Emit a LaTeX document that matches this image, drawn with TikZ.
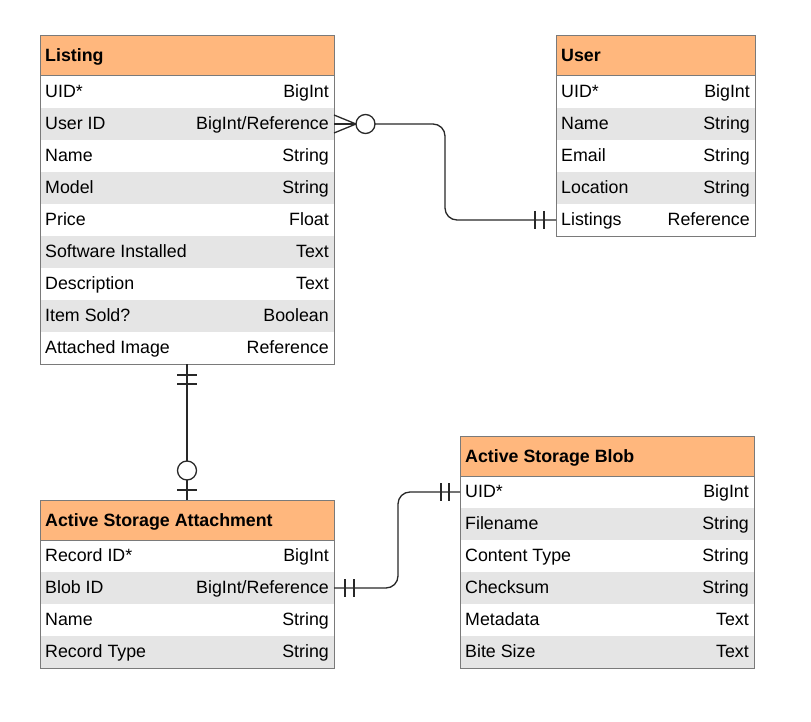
\documentclass[tikz,border=0pt]{standalone}
\usepackage{fontspec}
\setmainfont{Liberation Sans}
\usetikzlibrary{calc}
\definecolor{hdrorange}{RGB}{255,183,125}
\definecolor{rowgray}{RGB}{229,229,229}
\definecolor{bordergray}{RGB}{122,122,122}
\definecolor{linkcol}{RGB}{40,40,40}
\newcommand\mainsize{\fontsize{17.8}{21}\selectfont}
\tikzset{
  hdrbox/.style={draw=bordergray, line width=1pt, fill=hdrorange, minimum height=40pt, inner sep=0pt, outer sep=0pt},
  rowbox/.style={draw=none, minimum height=32pt, inner sep=0pt, outer sep=0pt},
  txt/.style={inner sep=0pt, font=\mainsize, text=black},
  border/.style={draw=bordergray, line width=1pt},
  link/.style={draw=linkcol, line width=1.3pt},
  circ/.style={circle, draw=linkcol, line width=1.3pt, fill=white, minimum size=19pt, inner sep=0pt, outer sep=0pt},
}
\newcommand\ertable[7]{%
  \node[hdrbox, minimum width=#4pt, anchor=north west] (#1) at (#2,#3) {};
  \node[txt, font=\mainsize\bfseries, anchor=base west] (#1-title) at ($(#1.north west)+(5,26)$) {#5};
  \foreach \f/\t [count=\i] in {#7} {
    \ifodd\i \def\rf{white}\else\def\rf{rowgray}\fi
    \pgfmathsetmacro\yy{#3+40+(\i-1)*32}
    \node[rowbox, fill=\rf, minimum width=#4pt, anchor=north west] (#1-\i) at (#2,\yy) {};
    \node[txt, anchor=base west] (#1-\i-f) at ($(#1-\i.north west)+(5,21.5)$) {\f};
    \node[txt, anchor=base east] (#1-\i-t) at ($(#1-\i.north east)+(-5,21.5)$) {\t};
  }
  \draw[border] (#1.north west) rectangle ($(#1.south east)+(0,#6*32)$);
  \draw[border] (#1.south west) -- (#1.south east);
}
\begin{document}
\begin{tikzpicture}[x=1pt, y=-1pt]
\useasboundingbox[fill=white] (0,0) rectangle (811,722);

\ertable{L}{40}{36}{294}{Listing}{9}{UID*/BigInt, User ID/{BigInt/Reference}, Name/String, Model/String, Price/Float, Software Installed/Text, Description/Text, Item Sold?/Boolean, Attached Image/Reference}
\ertable{U}{556}{36}{199}{User}{5}{UID*/BigInt, Name/String, Email/String, Location/String, Listings/Reference}
\ertable{A}{40}{500}{294}{Active Storage Attachment}{4}{Record ID*/BigInt, Blob ID/{BigInt/Reference}, Name/String, Record Type/String}
\ertable{B}{460}{436}{294}{Active Storage Blob}{6}{UID*/BigInt, Filename/String, Content Type/String, Checksum/String, Metadata/Text, Bite Size/Text}

% Listing -- User
\coordinate (c1tip) at ($(L-2.east)+(22,0)$);
\draw[link] ($(L-2.east)+(0,-9)$) -- (c1tip) -- ($(L-2.east)+(0,9)$);
\draw[link] (L-2.east) -- (c1tip);
\node[circ, anchor=west] (c1) at (c1tip) {};
\coordinate (m1) at (445,172);
\draw[link, rounded corners=12pt] (c1.east) -| (m1) |- (U-5.west);
\draw[link] ($(U-5.west)+(-21,-9)$) -- ($(U-5.west)+(-21,9)$);
\draw[link] ($(U-5.west)+(-12,-9)$) -- ($(U-5.west)+(-12,9)$);

% Listing -- Attachment
\node[circ] (c2) at ($(A.north)+(0,-29.5)$) {};
\draw[link] (L-9.south) -- (c2.north);
\draw[link] (c2.south) -- (A.north);
\draw[link] ($(L-9.south)+(-10,11)$) -- ($(L-9.south)+(10,11)$);
\draw[link] ($(L-9.south)+(-10,20)$) -- ($(L-9.south)+(10,20)$);
\draw[link] ($(A.north)+(-10,-10)$) -- ($(A.north)+(10,-10)$);

% Attachment -- Blob
\coordinate (m3) at (398,540);
\draw[link, rounded corners=12pt] (A-2.east) -| (m3) |- (B-1.west);
\draw[link] ($(A-2.east)+(11,-9)$) -- ($(A-2.east)+(11,9)$);
\draw[link] ($(A-2.east)+(20,-9)$) -- ($(A-2.east)+(20,9)$);
\draw[link] ($(B-1.west)+(-19,-9)$) -- ($(B-1.west)+(-19,9)$);
\draw[link] ($(B-1.west)+(-11,-9)$) -- ($(B-1.west)+(-11,9)$);
\end{tikzpicture}
\end{document}
